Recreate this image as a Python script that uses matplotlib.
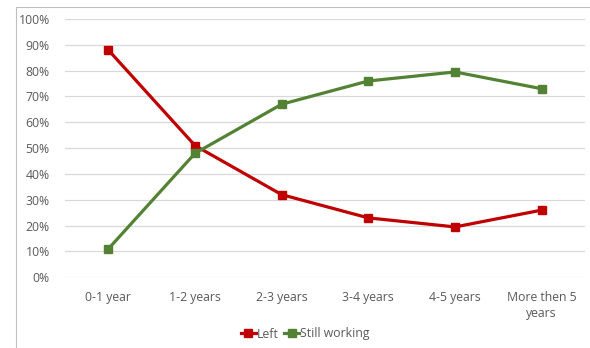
import matplotlib
matplotlib.use("Agg")
import matplotlib.pyplot as plt
from matplotlib.patches import Rectangle
from matplotlib.ticker import FuncFormatter

# ── Data ──────────────────────────────────────────────────────────────────────
categories    = ["0-1 year", "1-2 years", "2-3 years", "3-4 years", "4-5 years", "More then 5\nyears"]
left          = [88, 51, 32, 23, 19.5, 26]
still_working = [11, 48, 67, 76, 79.5, 73]
y_ticks       = list(range(0, 101, 10))

RED   = "#C00000"
GREEN = "#548235"
GRID  = "#D9D9D9"
TEXT  = "#595959"

plt.rcParams["font.family"] = ["Open Sans", "DejaVu Sans"]

W, H = 590, 348
fig = plt.figure(figsize=(W / 100, H / 100), dpi=100)
fig.patch.set_facecolor("white")

# outer chart border (runs off the right/bottom edge)
fig.patches.append(Rectangle((16 / W, -0.1), 1.2, 1 - 7 / H + 0.1,
                             transform=fig.transFigure, fill=False,
                             edgecolor="#BFBFBF", lw=0.8))

ax = fig.add_axes([65 / W, 1 - 277.3 / H, 520 / W, 258.3 / H])
ax.patch.set_alpha(0)
x = list(range(len(categories)))

ax.plot(x, left, color=RED, lw=2.3, marker="s", ms=5.5, label="Left", zorder=3)
ax.plot(x, still_working, color=GREEN, lw=2.3, marker="s", ms=5.5,
        label="Still working", zorder=3)

ax.set_xlim(-0.5, len(categories) - 0.5)
ax.set_ylim(0, 100)
ax.set_yticks(y_ticks)
ax.yaxis.set_major_formatter(FuncFormatter(lambda v, _: f"{v:.0f}%"))
ax.set_xticks(x)
ax.set_xticklabels(categories, linespacing=1.25)

ax.grid(axis="y", color=GRID, lw=0.9)
ax.set_axisbelow(True)
for s in ax.spines.values():
    s.set_visible(False)
ax.tick_params(length=0, labelsize=8.8, colors=TEXT)
ax.tick_params(axis="x", pad=10)
ax.tick_params(axis="y", pad=11)

leg = fig.legend(loc="center", bbox_to_anchor=(305 / W, 1 - 334 / H), ncol=2,
                 frameon=False, fontsize=8.8, handlelength=1.2,
                 handletextpad=0.05, columnspacing=0.5, labelcolor=TEXT)

fig.savefig("out.png", dpi=100, facecolor="white")
